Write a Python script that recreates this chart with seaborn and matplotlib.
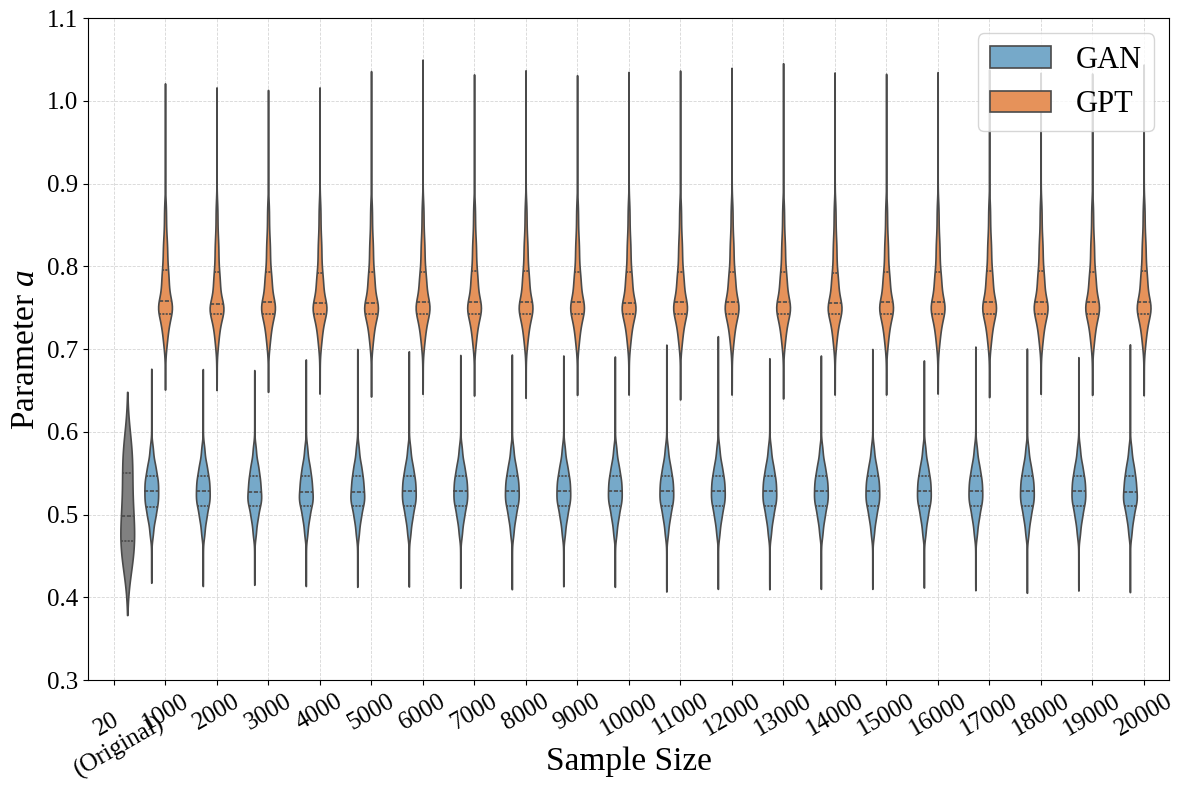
import numpy as np
import pandas as pd
import matplotlib
matplotlib.use("Agg")
import matplotlib.pyplot as plt
import seaborn as sns

# x categories (sample sizes)
sizes = ["20\n(Original)"] + [str(s) for s in range(1000, 21000, 1000)]

# summary of the original data (20 samples): min, q1, median, q3, max
orig_lo, orig_q1, orig_med, orig_q3, orig_hi = 0.434, 0.468, 0.497, 0.5505, 0.593
n_orig = 20

# GAN summaries per sample size (1000 ... 20000)
gan_lo = [0.417, 0.413, 0.4145, 0.413, 0.412, 0.4124, 0.4108, 0.4091, 0.4128, 0.412,
          0.4063, 0.4095, 0.4091, 0.4095, 0.4095, 0.4111, 0.4079, 0.4047, 0.4075, 0.4055]
gan_q1 = [0.509, 0.510, 0.510, 0.510, 0.510, 0.510, 0.510, 0.510, 0.510, 0.510,
          0.510, 0.510, 0.510, 0.510, 0.510, 0.510, 0.510, 0.510, 0.510, 0.510]
gan_med = [0.528, 0.528, 0.527, 0.527, 0.527, 0.528, 0.528, 0.528, 0.528, 0.528,
           0.528, 0.528, 0.528, 0.528, 0.528, 0.528, 0.528, 0.528, 0.528, 0.527]
gan_q3 = [0.547, 0.547, 0.547, 0.547, 0.547, 0.547, 0.547, 0.547, 0.547, 0.547,
          0.547, 0.547, 0.547, 0.547, 0.547, 0.547, 0.547, 0.547, 0.547, 0.547]
gan_hi = [0.6774, 0.677, 0.6758, 0.6888, 0.7016, 0.6988, 0.6943, 0.6948, 0.6936, 0.6924,
          0.7069, 0.7173, 0.6903, 0.6936, 0.7016, 0.6876, 0.7045, 0.7021, 0.6916, 0.7073]
gan_p02, gan_p10, gan_p90, gan_p98 = 0.471, 0.492, 0.564, 0.586

# GPT summaries per sample size (1000 ... 20000)
gpt_lo = [0.6505, 0.650, 0.6477, 0.6456, 0.642, 0.6453, 0.6432, 0.6404, 0.644, 0.6444,
          0.6384, 0.6444, 0.6396, 0.6444, 0.6444, 0.6456, 0.6412, 0.6453, 0.644, 0.6436]
gpt_q1 = [0.743, 0.743, 0.743, 0.743, 0.743, 0.743, 0.743, 0.743, 0.743, 0.743,
          0.743, 0.743, 0.743, 0.743, 0.743, 0.743, 0.743, 0.743, 0.743, 0.743]
gpt_med = [0.758, 0.755, 0.757, 0.756, 0.756, 0.757, 0.757, 0.757, 0.757, 0.756,
           0.757, 0.757, 0.757, 0.756, 0.757, 0.757, 0.757, 0.757, 0.757, 0.757]
gpt_q3 = [0.796, 0.793, 0.793, 0.792, 0.793, 0.793, 0.794, 0.794, 0.793, 0.793,
          0.793, 0.793, 0.793, 0.792, 0.793, 0.793, 0.794, 0.794, 0.793, 0.794]
gpt_hi = [1.023, 1.018, 1.015, 1.018, 1.038, 1.052, 1.034, 1.039, 1.033, 1.037,
          1.0387, 1.042, 1.0477, 1.0363, 1.0347, 1.0368, 1.040, 1.036, 1.035, 1.046]
gpt_p02, gpt_p10, gpt_p90, gpt_p98 = 0.700, 0.722, 0.835, 0.880

colors = {"GAN": "#76a9c9", "GPT": "#e6925a", "Original": "#808080"}
hue_order = ["GAN", "GPT", "Original"]

# expand the read-off quantiles into a sample so seaborn can draw the KDE
levels = [0.0, 0.02, 0.10, 0.25, 0.50, 0.75, 0.90, 0.98, 1.0]
n = 2000
p = (np.arange(n) + 0.5) / n

rows = []
for i in range(20):
    g = np.interp(p, levels, [gan_lo[i], gan_p02, gan_p10, gan_q1[i], gan_med[i],
                              gan_q3[i], gan_p90, gan_p98, gan_hi[i]])
    rows.append(pd.DataFrame({"size": sizes[i + 1], "model": "GAN", "a": g}))
    t = np.interp(p, levels, [gpt_lo[i], gpt_p02, gpt_p10, gpt_q1[i], gpt_med[i],
                              gpt_q3[i], gpt_p90, gpt_p98, gpt_hi[i]])
    rows.append(pd.DataFrame({"size": sizes[i + 1], "model": "GPT", "a": t}))
data = pd.concat(rows, ignore_index=True)

po = np.linspace(0, 1, n_orig)
orig = pd.DataFrame({"size": sizes[0], "model": "Original",
                     "a": np.interp(po, [0, 0.25, 0.5, 0.75, 1],
                                    [orig_lo, orig_q1, orig_med, orig_q3, orig_hi])})

sns.set_style("ticks")
plt.rcParams["font.family"] = ["Liberation Serif", "DejaVu Serif"]
plt.rcParams["mathtext.fontset"] = "custom"
plt.rcParams["mathtext.rm"] = "Liberation Serif"
plt.rcParams["mathtext.it"] = "Liberation Serif:italic"
for key in ["text.color", "axes.labelcolor", "xtick.color", "ytick.color", "axes.edgecolor"]:
    plt.rcParams[key] = "black"

fig, ax = plt.subplots(figsize=(11.86, 7.89), dpi=100)
sns.violinplot(data=data, x="size", y="a", hue="model", order=sizes,
               hue_order=hue_order, palette=colors,
               dodge=True, inner="quart", cut=0, density_norm="width",
               saturation=1, linecolor="#4a4a4a", linewidth=1.2, ax=ax)
handles, labels = ax.get_legend_handles_labels()

# the 20 original points: wider kernel, tails extended
sns.violinplot(data=orig, x="size", y="a", hue="model", order=sizes,
               hue_order=hue_order, palette=colors,
               dodge=True, inner="quart", cut=2, density_norm="width",
               saturation=1, linecolor="#4a4a4a", linewidth=1.2, legend=False, ax=ax)

ax.set_ylim(0.3, 1.1)
ax.set_xlim(-0.5, 20.5)
ax.set_xlabel("Sample Size", fontsize=24)
ax.xaxis.set_label_coords(0.5, -0.1)
ax.set_ylabel("Parameter $a$", fontsize=24)
ax.tick_params(axis="y", labelsize=18)
ax.tick_params(axis="x", labelsize=18)
plt.setp(ax.get_xticklabels(), rotation=30, ha="center")
ax.grid(True, linestyle="--", linewidth=0.6, color="#cccccc", alpha=0.8)

keep = [k for k, l in enumerate(labels) if l in ("GAN", "GPT")]
ax.legend([handles[k] for k in keep], [labels[k] for k in keep],
          loc="upper right", fontsize=22)

fig.subplots_adjust(left=0.074, right=0.986, top=0.977, bottom=0.138)
fig.savefig("out.png", dpi=100)
